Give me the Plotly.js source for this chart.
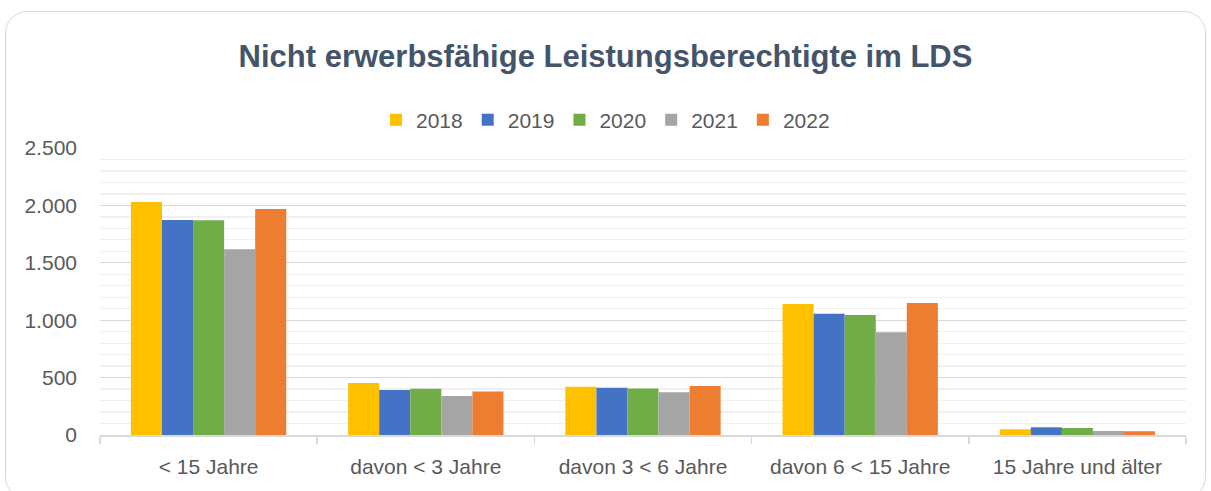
<!DOCTYPE html>
<html>
<head>
<meta charset="utf-8">
<script src="https://cdn.plot.ly/plotly-3.0.1.min.js"></script>
<style>
  html, body { margin: 0; padding: 0; background: #ffffff; }
  #wrap { position: relative; width: 1211px; height: 491px; overflow: hidden; }
  #chart { position: absolute; left: 0; top: 0; width: 1211px; height: 491px; }
  #frame { position: absolute; left: 5px; top: 11px; width: 1199px; height: 486px;
           border: 1.5px solid #d9d9d9; border-radius: 22px; pointer-events: none; }
</style>
</head>
<body>
<div id="wrap">
  <div id="chart"></div>
  <div id="frame"></div>
</div>
<script>
const categories = ["< 15 Jahre", "davon < 3 Jahre", "davon 3 < 6 Jahre", "davon 6 < 15 Jahre", "15 Jahre und älter"];
const years = ["2018", "2019", "2020", "2021", "2022"];
const v2018 = [2030, 453, 421, 1141, 50];
const v2019 = [1873, 392, 412, 1057, 67];
const v2020 = [1870, 403, 406, 1045, 61];
const v2021 = [1618, 340, 372, 895, 35];
const v2022 = [1969, 380, 427, 1150, 32];
const yTickVals = [0, 500, 1000, 1500, 2000, 2500];
const yTickText = ["0", "500", "1.000", "1.500", "2.000", "2.500"];

const seriesValues = [v2018, v2019, v2020, v2021, v2022];
const colors = ["#FFC000", "#4472C4", "#70AD47", "#A5A5A5", "#ED7D31"];

const font = "Liberation Sans, Arial, sans-serif";

const traces = years.map((y, i) => ({
  type: "bar",
  name: y,
  x: categories,
  y: seriesValues[i],
  marker: { color: colors[i], line: { width: 0 } },
  hoverinfo: "x+y+name"
}));

const layout = {
  width: 1211,
  height: 491,
  paper_bgcolor: "#ffffff",
  plot_bgcolor: "#ffffff",
  margin: { l: 100, r: 25, t: 148, b: 56 },
  barmode: "group",
  bargap: 0.285,
  bargroupgap: 0,
  font: { family: font, color: "#595959" },
  title: {
    text: "<b>Nicht erwerbsfähige Leistungsberechtigte im LDS</b>",
    font: { family: font, size: 31, color: "#44546A" },
    x: 0.5, xanchor: "center",
    xref: "container", yref: "container",
    y: 1 - 56 / 491, yanchor: "middle"
  },
  showlegend: true,
  legend: {
    orientation: "h",
    x: 0.5, xanchor: "center", xref: "container",
    y: 1 - 120 / 491, yanchor: "middle", yref: "container",
    font: { family: font, size: 21, color: "#595959" },
    itemwidth: 30,
    traceorder: "normal"
  },
  xaxis: {
    type: "category",
    showgrid: false,
    showline: true,
    linecolor: "#d9d9d9",
    linewidth: 1.5,
    ticks: "outside",
    tickson: "boundaries",
    ticklen: 7,
    tickcolor: "#d9d9d9",
    tickwidth: 1.5,
    ticklabelstandoff: 12,
    tickfont: { family: font, size: 21, color: "#595959" },
    zeroline: false
  },
  yaxis: {
    range: [0, 2500],
    tickvals: yTickVals,
    ticktext: yTickText,
    showgrid: true,
    gridcolor: "#d9d9d9",
    gridwidth: 1.3,
    zeroline: false,
    showline: false,
    ticks: "",
    ticklabelstandoff: 22,
    tickfont: { family: font, size: 21, color: "#595959" },
    minor: { dtick: 100, showgrid: true, gridcolor: "#f0f0f0", gridwidth: 1.3 }
  }
};

Plotly.newPlot("chart", traces, layout, { displayModeBar: false, staticPlot: true });
</script>
</body>
</html>
